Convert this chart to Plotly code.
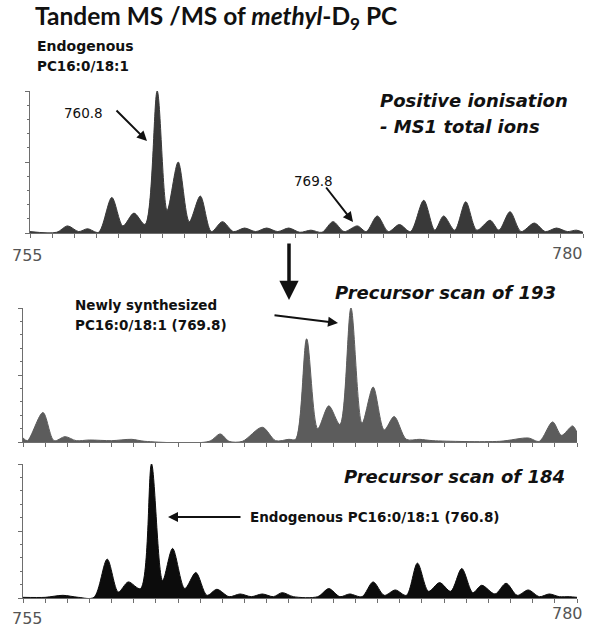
import plotly.graph_objects as go

W, H = 598, 630

# ---- data (m/z, relative intensity) ----
ms1_mz = [755.0, 756.2, 756.7, 757.2, 757.6, 758.1, 758.7, 759.2, 759.7, 760.2, 760.75, 761.2, 761.7,
          762.2, 762.7, 763.2, 763.7, 764.2, 764.7, 765.2, 765.7, 766.2, 766.7, 767.2, 767.7, 768.2,
          768.7, 769.2, 769.8, 770.2, 770.7, 771.2, 771.7, 772.2, 772.8, 773.3, 773.7, 774.2, 774.7,
          775.2, 775.8, 776.2, 776.7, 777.2, 777.8, 778.3, 778.8, 779.3, 779.7, 780.0]
ms1_int = [0.01, 0.005, 0.05, 0.01, 0.03, 0.005, 0.25, 0.05, 0.14, 0.06, 1.0, 0.16, 0.50,
           0.08, 0.26, 0.01, 0.08, 0.01, 0.035, 0.01, 0.035, 0.01, 0.035, 0.005, 0.02, 0.005,
           0.08, 0.01, 0.05, 0.01, 0.12, 0.01, 0.06, 0.01, 0.23, 0.02, 0.12, 0.02, 0.22,
           0.02, 0.09, 0.02, 0.15, 0.01, 0.07, 0.01, 0.035, 0.01, 0.02, 0.005]

p193_mz = [755.0, 755.2, 755.9, 756.4, 756.9, 757.4, 758.0, 759.0, 759.9, 760.5, 763.4, 763.9, 764.3,
           764.9, 765.8, 766.4, 767.0, 767.3, 767.8, 768.3, 768.8, 769.3, 769.8, 770.3, 770.8, 771.3,
           771.75, 772.3, 772.9, 773.5, 776.5, 777.8, 778.3, 778.9, 779.3, 779.8, 780.0]
p193_int = [0.03, 0.01, 0.22, 0.01, 0.04, 0.01, 0.015, 0.01, 0.02, 0.005, 0.005, 0.06, 0.005,
            0.005, 0.11, 0.01, 0.02, 0.02, 0.77, 0.10, 0.27, 0.13, 1.0, 0.14, 0.41, 0.09,
            0.19, 0.02, 0.02, 0.01, 0.005, 0.03, 0.005, 0.15, 0.05, 0.12, 0.07]

p184_mz = [755.0, 756.0, 756.8, 757.5, 758.2, 758.8, 759.3, 759.75, 760.3, 760.8, 761.3, 761.75, 762.3,
           762.8, 763.3, 763.75, 764.3, 764.8, 765.3, 765.8, 766.3, 766.7, 767.2, 768.3, 768.8, 769.3,
           769.74, 770.3, 770.8, 771.3, 771.8, 772.3, 772.8, 773.3, 773.8, 774.3, 774.8, 775.3, 775.7,
           776.3, 776.8, 777.3, 777.8, 778.3, 778.75, 779.2, 779.65, 780.0]
p184_int = [0.005, 0.005, 0.02, 0.005, 0.005, 0.29, 0.045, 0.12, 0.07, 1.0, 0.13, 0.37, 0.07,
            0.19, 0.02, 0.065, 0.01, 0.03, 0.01, 0.03, 0.01, 0.04, 0.01, 0.01, 0.07, 0.01,
            0.03, 0.01, 0.12, 0.02, 0.06, 0.02, 0.26, 0.05, 0.115, 0.05, 0.22, 0.04, 0.095,
            0.03, 0.11, 0.02, 0.06, 0.01, 0.03, 0.01, 0.01, 0.005]

x_range = [755, 780]
x_labels = ["755", "780"]

# ---- styling ----
AX = "#6e6e6e"
TFONT = "Lato"
LFONT = "DejaVu Sans"


def px(x):
    return x / W


def py(y):
    return 1 - y / H


fig = go.Figure()

panels = [
    (ms1_mz, ms1_int, "#393939", (30, 583), 91, 233),
    (p193_mz, p193_int, "#5c5c5c", (23, 577), 308, 442),
    (p184_mz, p184_int, "#0c0c0c", (23, 577), 464, 598),
]

for i, (xs, ys, col, (x0, x1), ytop, ybase) in enumerate(panels, start=1):
    sfx = "" if i == 1 else str(i)
    fig.add_trace(go.Scatter(
        x=xs, y=ys, mode="lines", fill="tozeroy",
        line=dict(color=col, width=1, shape="spline", smoothing=0.85),
        fillcolor=col, xaxis="x" + sfx, yaxis="y" + sfx, showlegend=False,
        hoverinfo="x+y"))
    fig.layout["xaxis" + sfx] = dict(
        domain=[px(x0), px(x1)], range=x_range, anchor="y" + sfx,
        showgrid=False, zeroline=False, showline=True, linecolor=AX, linewidth=1,
        ticks="outside", tickcolor=AX, ticklen=4, dtick=1, tick0=755,
        showticklabels=False)
    fig.layout["yaxis" + sfx] = dict(
        domain=[py(ybase), py(ytop)], range=[0, 1.0], anchor="x" + sfx,
        showgrid=False, zeroline=False, showline=True, linecolor=AX, linewidth=1,
        ticks="outside", tickcolor=AX, ticklen=4, dtick=0.5, tick0=0,
        minor=dict(dtick=0.1, ticks="outside", ticklen=2, tickcolor=AX),
        showticklabels=False)

ann = []


def text(x, y, s, size, xanchor="left", color="#111", bold=False, italic=False, font=LFONT):
    if bold:
        s = "<b>" + s + "</b>"
    if italic:
        s = "<i>" + s + "</i>"
    ann.append(dict(x=px(x), y=py(y), xref="paper", yref="paper", text=s, showarrow=False,
                    xanchor=xanchor, yanchor="middle", align="left",
                    font=dict(size=size, color=color, family=font)))


def arrow(x0, y0, x1, y1, width=2, size=1.0, head=2):
    ann.append(dict(x=px(x1), y=py(y1), xref="paper", yref="paper", ax=x0 - x1, ay=y0 - y1,
                    axref="pixel", ayref="pixel", text="", showarrow=True,
                    arrowhead=head, arrowsize=size, arrowwidth=width, arrowcolor="#111"))


# title and labels
text(33, 17, "Tandem MS /MS of <i>methyl</i>-D<sub>9</sub> PC", 24.5, bold=True, font=TFONT)
text(35, 46, "Endogenous", 14, bold=True)
text(35, 66, "PC16:0/18:1", 13.5, bold=True)

text(378, 101, "Positive ionisation", 18, bold=True, italic=True)
text(378, 127, "- MS1 total ions", 18, bold=True, italic=True)
text(62, 113, "760.8", 13.5)
arrow(115, 109, 147, 141)
text(292, 181, "769.8", 13.5)
arrow(325, 186, 353, 222)

# x labels
text(28, 255, x_labels[0], 16, xanchor="center", color="#555")
text(585, 253, x_labels[1], 16, xanchor="right", color="#555")
text(28, 618, x_labels[0], 16, xanchor="center", color="#555")
text(585, 613, x_labels[1], 16, xanchor="right", color="#555")

# big down arrow
arrow(289, 242, 289, 300, width=3.5, size=1.1, head=2)

# middle panel
text(333, 292, "Precursor scan of 193", 18, bold=True, italic=True)
text(73, 305, "Newly synthesized", 13.5, bold=True)
text(73, 325, "PC16:0/18:1 (769.8)", 13.5, bold=True)
arrow(273, 315, 338, 323)

# bottom panel
text(342, 476, "Precursor scan of 184", 18, bold=True, italic=True)
text(248, 517, "Endogenous PC16:0/18:1 (760.8)", 13.5, bold=True)
arrow(242, 517, 168, 517)

fig.update_layout(
    width=W, height=H, margin=dict(l=0, r=0, t=0, b=0),
    paper_bgcolor="white", plot_bgcolor="white",
    annotations=ann, showlegend=False,
)

fig.write_html("out.html", config={"displayModeBar": False},
               post_script="document.body.style.margin='0';")
